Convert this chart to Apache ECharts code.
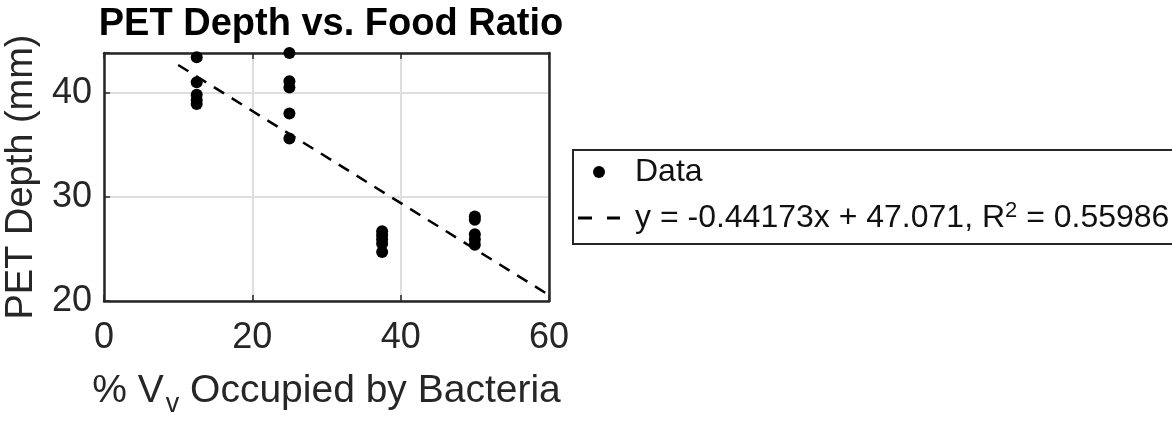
<!DOCTYPE html>
<html>
<head>
<meta charset="utf-8">
<script src="https://cdn.jsdelivr.net/npm/echarts@6/dist/echarts.min.js"></script>
<style>
  html, body { margin: 0; padding: 0; background: #fff; }
  #chart { width: 1172px; height: 423px; }
</style>
</head>
<body>
<div id="chart"></div>
<script>
// Food ratio groups (% of void volume occupied by bacteria)
const foodRatio = [12.5, 12.5, 12.5, 12.5, 12.5,
                   25, 25, 25, 25, 25,
                   37.5, 37.5, 37.5, 37.5, 37.5,
                   50, 50, 50, 50, 50];
// Measured PET depth (mm) for each sample
const petDepth = [43.4, 41.0, 39.8, 39.3, 38.9,
                  43.8, 41.1, 40.5, 38.0, 35.6,
                  26.7, 26.3, 25.9, 25.5, 24.7,
                  28.1, 27.8, 26.4, 25.9, 25.4];
// Linear fit coefficients and goodness of fit
const fitSlope = -0.44173;
const fitIntercept = 47.071;
const fitR2 = 0.55986;
// x-range over which the fit line is drawn
const fitRange = [10, 60];
const xTicks = [0, 20, 40, 60];
const yTicks = [20, 30, 40];

const FONT = 'Liberation Sans, Arial, Helvetica, sans-serif';
const INK = '#262626';

const scatterData = foodRatio.map((x, i) => [x, petDepth[i]]);
const fitData = fitRange.map(x => [x, fitSlope * x + fitIntercept]);
const fitName = 'y = ' + fitSlope + 'x + ' + fitIntercept.toFixed(3) + ', R^2 = ' + fitR2;

const chart = echarts.init(document.getElementById('chart'), null, { renderer: 'canvas' });

const tickCommon = { show: true, inside: true, length: 6, lineStyle: { color: INK, width: 1.5 } };

chart.setOption({
  animation: false,
  backgroundColor: '#fff',
  title: {
    text: 'PET Depth vs. Food Ratio',
    left: 326, textAlign: 'center', top: 1,
    textStyle: { fontFamily: FONT, fontWeight: 'bold', fontSize: 38, color: '#000' }
  },
  grid: { left: 104, right: 623, top: 53, bottom: 116, show: false },
  legend: {
    orient: 'vertical',
    left: 573, top: 150,
    padding: [6, 120, 6, 5],
    borderColor: INK, borderWidth: 2,
    backgroundColor: '#fff',
    itemWidth: 42, itemHeight: 12, itemGap: 12,
    data: [
      { name: 'Data', icon: 'circle' },
      { name: fitName, icon: 'path://M0,0h14v3h-14z M29,0h13v3h-13z', itemStyle: { color: '#000' } }
    ],
    formatter: function (name) {
      if (name === 'Data') return '{t|Data}';
      return '{t|y = ' + fitSlope + 'x + ' + fitIntercept.toFixed(3) + ', R}{sup|2}{t| = ' + fitR2 + '}';
    },
    textStyle: {
      fontFamily: FONT, color: '#111', fontSize: 32, padding: [0, 0, 0, 10],
      rich: {
        t: { fontFamily: FONT, fontSize: 32, color: '#111', lineHeight: 36 },
        sup: { fontFamily: FONT, fontSize: 22, color: '#111', verticalAlign: 'top', lineHeight: 36, padding: [0, 0, 16, 0] }
      }
    }
  },
  xAxis: [{
    type: 'value', min: xTicks[0], max: xTicks[xTicks.length - 1], interval: 20,
    position: 'bottom',
    axisLine: { show: true, onZero: false, lineStyle: { color: INK, width: 2.5 } },
    axisTick: tickCommon,
    splitLine: { show: true, lineStyle: { color: '#dedede', width: 2 } },
    axisLabel: { fontFamily: FONT, fontSize: 36, color: INK, margin: 19 },
    name: '{t|% V}{sub|v}{t| Occupied by Bacteria}',
    nameLocation: 'middle', nameGap: 64,
    nameTextStyle: {
      fontFamily: FONT, fontSize: 39, color: INK,
      rich: {
        t: { fontFamily: FONT, fontSize: 39, color: INK },
        sub: { fontFamily: FONT, fontSize: 27, color: INK, padding: [26, 0, 0, 2] }
      }
    }
  }, {
    type: 'value', min: xTicks[0], max: xTicks[xTicks.length - 1], interval: 20,
    position: 'top',
    axisLine: { show: true, onZero: false, lineStyle: { color: INK, width: 2.5 } },
    axisTick: tickCommon, axisLabel: { show: false }, splitLine: { show: false }
  }],
  yAxis: [{
    type: 'value', min: yTicks[0], max: 'dataMax', interval: 10,
    position: 'left',
    axisLine: { show: true, onZero: false, lineStyle: { color: INK, width: 2.5 } },
    axisTick: tickCommon,
    splitLine: { show: true, lineStyle: { color: '#dedede', width: 2 } },
    axisLabel: {
      fontFamily: FONT, fontSize: 36, color: INK, margin: 12,
      formatter: v => (yTicks.indexOf(v) >= 0 ? String(v) : '')
    },
    name: 'PET Depth (mm)',
    nameLocation: 'middle', nameGap: 63,
    nameTextStyle: { fontFamily: FONT, fontSize: 38, color: INK }
  }, {
    type: 'value', min: yTicks[0], max: 'dataMax', interval: 10,
    position: 'right',
    axisLine: { show: true, onZero: false, lineStyle: { color: INK, width: 2.5 } },
    axisTick: tickCommon, axisLabel: { show: false }, splitLine: { show: false }
  }],
  series: [{
    name: 'Data',
    type: 'scatter',
    xAxisIndex: 0, yAxisIndex: 0,
    symbol: 'circle', symbolSize: 12,
    itemStyle: { color: '#000', opacity: 1 },
    data: scatterData,
    z: 3
  }, {
    name: fitName,
    type: 'line',
    xAxisIndex: 0, yAxisIndex: 0,
    showSymbol: false, symbol: 'none',
    lineStyle: { color: '#000', width: 2.5, type: [12, 9] },
    itemStyle: { color: '#000' },
    data: fitData,
    z: 2
  }]
});
</script>
</body>
</html>
